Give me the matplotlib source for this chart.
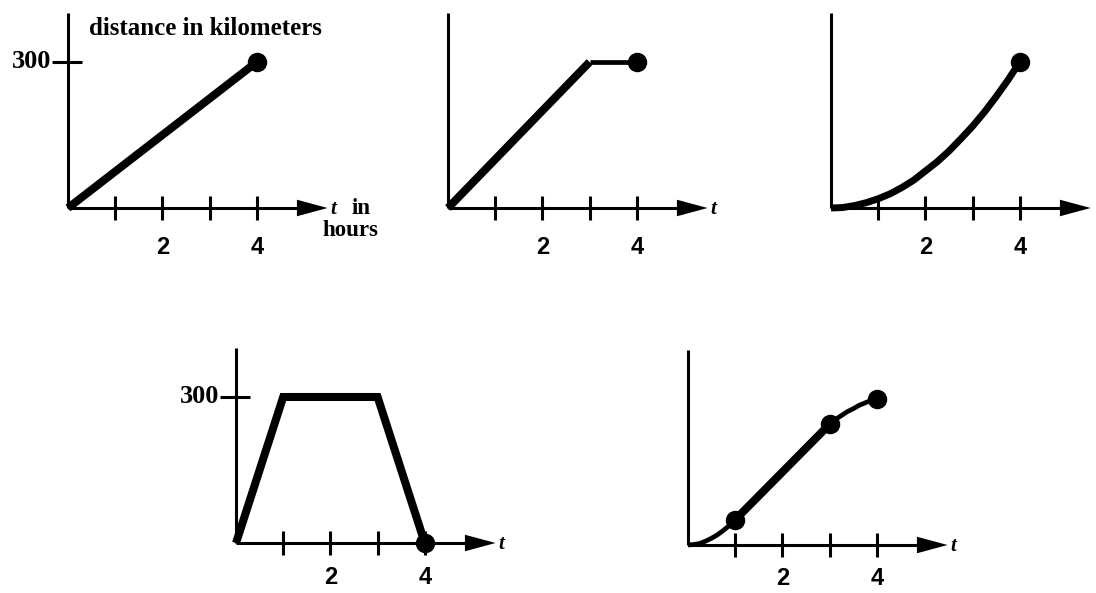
#!/usr/bin/env python3

import matplotlib
matplotlib.use("Agg")
import matplotlib.pyplot as plt

W, H = 1096, 593
PX_T = 47.2          # pixels per hour
PX_D = 146 / 300     # pixels per kilometer

SERIF = ["Liberation Serif", "DejaVu Serif"]
SANS = ["Liberation Sans", "DejaVu Sans"]

tick_hours = [1, 2, 3, 4]
tick_labels = {2: "2", 4: "4"}

# panel A: steady speed
a_t = [0, 4]
a_d = [0, 300]

# panel B: fast then stopped
b_t_fast = [0, 3]
b_d_fast = [0, 300]
b_t_stop = [3, 4]
b_d_stop = [300, 300]

# panel C: speeding up
c_t = [0, 0.25, 0.5, 0.75, 1, 1.25, 1.5, 1.75, 2, 2.25, 2.5, 2.75,
       3, 3.25, 3.5, 3.75, 4]
c_d = [0, 1, 5, 11, 19, 29, 42, 57, 76, 95, 117, 142,
       168, 197, 229, 263, 300]

# panel D: there and back
d_t = [0, 1, 3, 4]
d_d = [0, 300, 300, 0]

# panel E: start slow, cruise, slow down
e_t_start = [0, 0.125, 0.25, 0.375, 0.5, 0.625, 0.75, 0.875, 1]
e_d_start = [0, 1, 3, 8, 14, 21, 30, 40, 52]
e_t_mid = [1, 3]
e_d_mid = [52, 248]
e_t_end = [3, 3.125, 3.25, 3.375, 3.5, 3.625, 3.75, 3.875, 4]
e_d_end = [248, 258, 266, 274, 280, 287, 292, 297, 300]
e_dots_t = [1, 3, 4]
e_dots_d = [52, 248, 300]


def make_panel(fig, ox, oy, t_label=True, show_300=False, label_y=-82):
    # ox, oy: pixel position of the origin, measured from the top-left
    x0, x1 = -1.5, 6.0
    y0, y1 = -100, 420
    left = ox + x0 * PX_T
    bottom = oy - y0 * PX_D
    ax = fig.add_axes([left / W, 1 - bottom / H,
                       (x1 - x0) * PX_T / W, (y1 - y0) * PX_D / H])
    ax.set_xlim(x0, x1)
    ax.set_ylim(y0, y1)
    ax.axis("off")

    # axes with arrow
    ax.plot([0, 0], [0, 400], color="black", lw=2.2, solid_capstyle="butt")
    ax.plot([0, 4.9], [0, 0], color="black", lw=2.2, solid_capstyle="butt")
    ax.fill([4.85, 5.5, 4.85], [-17, 0, 17], color="black", lw=0)
    for h in tick_hours:
        ax.plot([h, h], [-25, 25], color="black", lw=2.2, solid_capstyle="butt")
        if h in tick_labels:
            ax.text(h, label_y, tick_labels[h], ha="center", va="center",
                    fontsize=17, fontweight="bold", family=SANS)
    if t_label:
        ax.text(5.55, -2, "t", ha="left", va="center", fontsize=15,
                style="italic", fontweight="bold", family=SERIF)
    if show_300:
        ax.plot([-0.33, 0.3], [300, 300], color="black", lw=2.2,
                solid_capstyle="butt")
        ax.text(-0.36, 300, "300", ha="right", va="center", fontsize=19,
                fontweight="bold", family=SERIF)
    return ax


fig = plt.figure(figsize=(W / 100, H / 100), dpi=100)
fig.patch.set_facecolor("white")

thick = dict(color="black", lw=5.8, solid_capstyle="butt", solid_joinstyle="miter")
thin = dict(color="black", lw=3.4, solid_capstyle="butt")
dot = dict(color="black", marker="o", markersize=13, linestyle="none")

# top row
ax1 = make_panel(fig, 68, 208, t_label=False, show_300=True)
ax1.plot(a_t, a_d, **thick)
ax1.plot(a_t[-1:], a_d[-1:], **dot)
ax1.text(0.45, 368, "distance in kilometers", ha="left", va="center",
         fontsize=18, fontweight="bold", family=SERIF)
ax1.text(5.55, -2, "t", ha="left", va="center", fontsize=15,
         style="italic", fontweight="bold", family=SERIF)
ax1.text(6.0, -2, "in", ha="left", va="center", fontsize=16.5,
         fontweight="bold", family=SERIF)
ax1.text(5.4, -47, "hours", ha="left", va="center", fontsize=16.5,
         fontweight="bold", family=SERIF)

ax2 = make_panel(fig, 448, 208)
ax2.plot(b_t_fast, b_d_fast, **thick)
ax2.plot(b_t_stop, b_d_stop, **thin)
ax2.plot(b_t_stop[-1:], b_d_stop[-1:], **dot)

ax3 = make_panel(fig, 831, 208, t_label=False)
ax3.plot(c_t, c_d, color="black", lw=5.0, solid_capstyle="butt",
         solid_joinstyle="round")
ax3.plot(c_t[-1:], c_d[-1:], **dot)

# bottom row
ax4 = make_panel(fig, 236, 543, show_300=True, label_y=-71)
ax4.plot(d_t, d_d, **thick)
ax4.plot(d_t[-1:], d_d[-1:], **dot)

ax5 = make_panel(fig, 688, 545, label_y=-68)
ax5.plot(e_t_start, e_d_start, solid_joinstyle="round", **thin)
ax5.plot(e_t_mid, e_d_mid, **thick)
ax5.plot(e_t_end, e_d_end, solid_joinstyle="round", **thin)
ax5.plot(e_dots_t, e_dots_d, **dot)

fig.savefig("out.png", dpi=100, facecolor="white")
